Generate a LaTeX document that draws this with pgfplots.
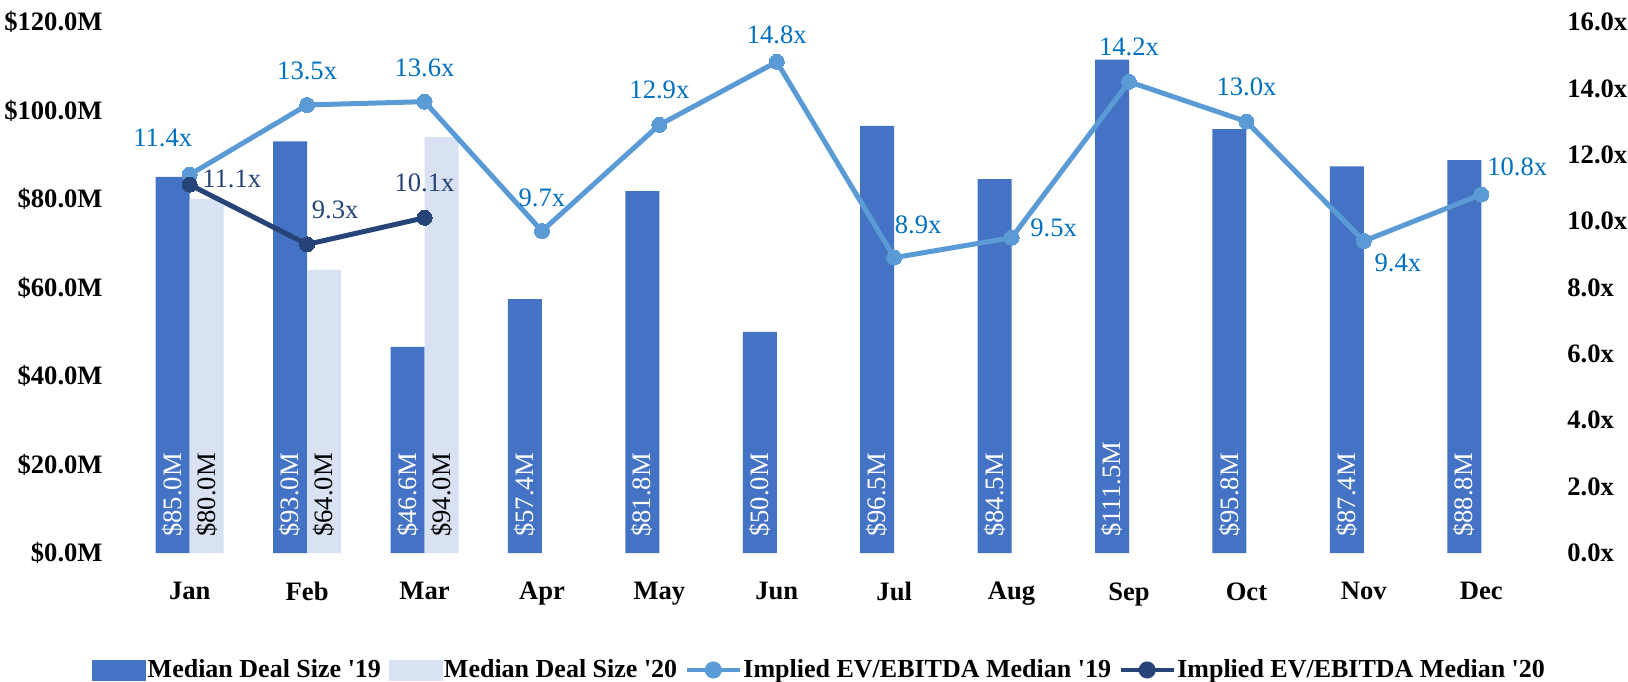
\documentclass[border=0pt]{standalone}
\usepackage{fontspec}
\setmainfont{Liberation Serif}
\usepackage{pgfplots}
\pgfplotsset{compat=1.18}
\usepackage{pgfplotstable}

\definecolor{bar19}{HTML}{4472C4}
\definecolor{bar20}{HTML}{D9E2F3}
\definecolor{line19}{HTML}{5B9BD5}
\definecolor{line20}{HTML}{264478}
\definecolor{lab19}{HTML}{0070C0}

\pgfplotstableread{
x y
0 85.0
1 93.0
2 46.6
3 57.4
4 81.8
5 50.0
6 96.5
7 84.5
8 111.5
9 95.8
10 87.4
11 88.8
}\barsA

\pgfplotstableread{
x y
0 80.0
1 64.0
2 94.0
}\barsB

\pgfplotstableread{
x y dx dy
0 11.4 -13.5 18.5
1 13.5 0 17
2 13.6 0 17
3 9.7 0 16.5
4 12.9 0 17.5
5 14.8 0 13.5
6 8.9 12 16.5
7 9.5 21 5
8 14.2 0 17.5
9 13.0 0 17.5
10 9.4 17 -11
11 10.8 18 14
}\lineA

\pgfplotstableread{
x y dx dy
0 11.1 21 3
1 9.3 14 17
2 10.1 0 17.5
}\lineB

\newcommand{\lblfont}{\fontsize{13.3}{16}\selectfont}

\begin{document}
\begin{tikzpicture}
\path[use as bounding box] (-65.5pt,-64pt) rectangle (748.5pt,276.5pt);
\begin{axis}[
  at={(0pt,0pt)}, anchor=south west,
  width=704.5pt, height=265.5pt, scale only axis,
  xmin=-0.5, xmax=11.5, ymin=0, ymax=120,
  xtick={0,...,11},
  xticklabels={Jan,Feb,Mar,Apr,May,Jun,Jul,Aug,Sep,Oct,Nov,Dec},
  ytick={0,20,...,120},
  yticklabels={\$0.0M,\$20.0M,\$40.0M,\$60.0M,\$80.0M,\$100.0M,\$120.0M},
  axis line style={draw=none},
  major tick length=0pt,
  tick label style={font=\lblfont\bfseries},
  yticklabel style={anchor=east, inner sep=0pt, xshift=-14pt},
  xticklabel style={anchor=north, inner sep=0pt, yshift=-14.5pt},
  clip=false,
]
\addplot[ybar, bar width=17pt, bar shift=-8.5pt, fill=bar19, draw=none] table[x=x,y=y] {\barsA};
\addplot[ybar, bar width=17pt, bar shift=8.5pt, fill=bar20, draw=none] table[x=x,y=y] {\barsB};
% value labels at bar bases
\addplot[draw=none, mark=none,
  point meta=explicit symbolic,
  nodes near coords={\$\pgfplotspointmeta M},
  every node near coord/.append style={rotate=90, anchor=west, inner sep=0pt, text=white, font=\lblfont}]
  table[x expr=\thisrow{x}-0.1448, y expr=3.6, meta=y] {\barsA};
\addplot[draw=none, mark=none,
  point meta=explicit symbolic,
  nodes near coords={\$\pgfplotspointmeta M},
  every node near coord/.append style={rotate=90, anchor=west, inner sep=0pt, text=black, font=\lblfont}]
  table[x expr=\thisrow{x}+0.1448, y expr=3.6, meta=y] {\barsB};
\end{axis}

\begin{axis}[
  at={(0pt,0pt)}, anchor=south west,
  width=704.5pt, height=265.5pt, scale only axis,
  xmin=-0.5, xmax=11.5, ymin=0, ymax=16,
  xtick=\empty,
  ytick={0,2,...,16},
  yticklabels={0.0x,2.0x,4.0x,6.0x,8.0x,10.0x,12.0x,14.0x,16.0x},
  yticklabel pos=right,
  axis line style={draw=none},
  major tick length=0pt,
  tick label style={font=\lblfont\bfseries},
  yticklabel style={anchor=west, inner sep=0pt, xshift=13.5pt},
  clip=false,
  legend columns=4,
  legend style={at={(0.4886,-0.2203)}, anchor=center, draw=none, fill=none,
    font=\fontsize{13}{15}\selectfont\bfseries,
    inner sep=0pt, column sep=0pt,
    nodes={inner xsep=0.8pt, inner ysep=0pt},
    /tikz/every even column/.append style={column sep=3pt}},
  legend cell align=left,
]
\addlegendimage{legend image code/.code={\fill[bar19] (0pt,-5pt) rectangle (26.5pt,5pt);}}
\addlegendentry{Median Deal Size \textquotesingle19}
\addlegendimage{legend image code/.code={\fill[bar20] (0pt,-5pt) rectangle (26.5pt,5pt);}}
\addlegendentry{Median Deal Size \textquotesingle20}

\addplot[line19, line width=2.5pt, mark=*, mark size=3.75pt,
  mark options={line width=0pt, fill=line19, draw=line19},
  point meta=explicit symbolic,
  visualization depends on={\thisrow{dx}\as\dx},
  visualization depends on={\thisrow{dy}\as\dy},
  nodes near coords={\pgfplotspointmeta x},
  every node near coord/.append style={anchor=center, xshift=\dx pt, yshift=\dy pt, text=lab19, font=\lblfont, inner sep=0pt},
  legend image code/.code={\draw[line19, line width=2pt] (0pt,0pt) -- (26.5pt,0pt); \fill[line19] (13.25pt,0pt) circle (3pt);}
  ] table[x=x,y=y,meta=y] {\lineA};
\addlegendentry{Implied EV/EBITDA Median \textquotesingle19}

\addplot[line20, line width=2.5pt, mark=*, mark size=3.75pt,
  mark options={line width=0pt, fill=line20, draw=line20},
  point meta=explicit symbolic,
  visualization depends on={\thisrow{dx}\as\dx},
  visualization depends on={\thisrow{dy}\as\dy},
  nodes near coords={\pgfplotspointmeta x},
  every node near coord/.append style={anchor=center, xshift=\dx pt, yshift=\dy pt, text=line20, font=\lblfont, inner sep=0pt},
  legend image code/.code={\draw[line20, line width=2pt] (0pt,0pt) -- (26.5pt,0pt); \fill[line20] (13.25pt,0pt) circle (3pt);}
  ] table[x=x,y=y,meta=y] {\lineB};
\addlegendentry{Implied EV/EBITDA Median \textquotesingle20}
\end{axis}
\end{tikzpicture}
\end{document}
